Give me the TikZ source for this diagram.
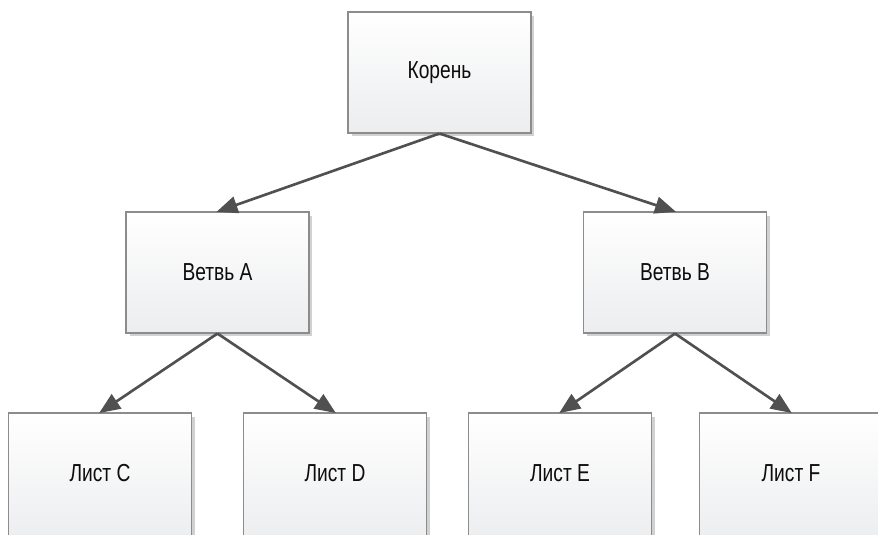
\documentclass[tikz,border=0pt]{standalone}
\usepackage{fontspec}
\setmainfont{Liberation Sans}[FakeStretch=0.78]
\usetikzlibrary{arrows.meta,shadows}

\definecolor{boxline}{RGB}{140,140,140}
\definecolor{boxbottom}{RGB}{236,237,239}
\definecolor{wire}{RGB}{80,80,80}

\tikzset{
	treebox/.style={rectangle, draw=boxline, line width=0.6pt, top color=white, bottom color=boxbottom,
		minimum width=3.66cm, minimum height=2.42cm, inner sep=0pt, font=\fontsize{14}{16}\selectfont, text=black!95,
		drop shadow={shadow xshift=0.07cm, shadow yshift=-0.07cm, fill=black!18, opacity=1}},
	leafbox/.style={treebox, minimum height=2.6cm},
	treeedge/.style={draw=wire, line width=1.5pt, -{Triangle[length=0.42cm, width=0.34cm]}, shorten >=-0.02cm}
}

\begin{document}
\begin{tikzpicture}[x=0.02cm, y=-0.02cm]
				% Page frame:
				\useasboundingbox (0, 0) rectangle (878, 534);
				\clip (0, 0) rectangle (878, 534);
				% Boxes:
				\node[treebox] (root) at (439.5, 72.5){Корень};
				\node[treebox] (brA) at (217.5, 272.5){Ветвь A};
				\node[treebox] (brB) at (675, 272.5){Ветвь B};
				\node[leafbox] (lfC) at (100, 478){};
				\node[leafbox] (lfD) at (335, 478){};
				\node[leafbox] (lfE) at (560, 478){};
				\node[leafbox] (lfF) at (791, 478){};
				\node[font=\fontsize{14}{16}\selectfont, text=black!95] (lblC) at (100, 473.5){Лист C};
				\node[font=\fontsize{14}{16}\selectfont, text=black!95] (lblD) at (335, 473.5){Лист D};
				\node[font=\fontsize{14}{16}\selectfont, text=black!95] (lblE) at (560, 473.5){Лист E};
				\node[font=\fontsize{14}{16}\selectfont, text=black!95] (lblF) at (791, 473.5){Лист F};
				% Arrows:
				\draw[treeedge] (root.south) -- (brA.north);
				\draw[treeedge] (root.south) -- (brB.north);
				\draw[treeedge] (brA.south) -- (lfC.north);
				\draw[treeedge] (brA.south) -- (lfD.north);
				\draw[treeedge] (brB.south) -- (lfE.north);
				\draw[treeedge] (brB.south) -- (lfF.north);
			\end{tikzpicture}
\end{document}
